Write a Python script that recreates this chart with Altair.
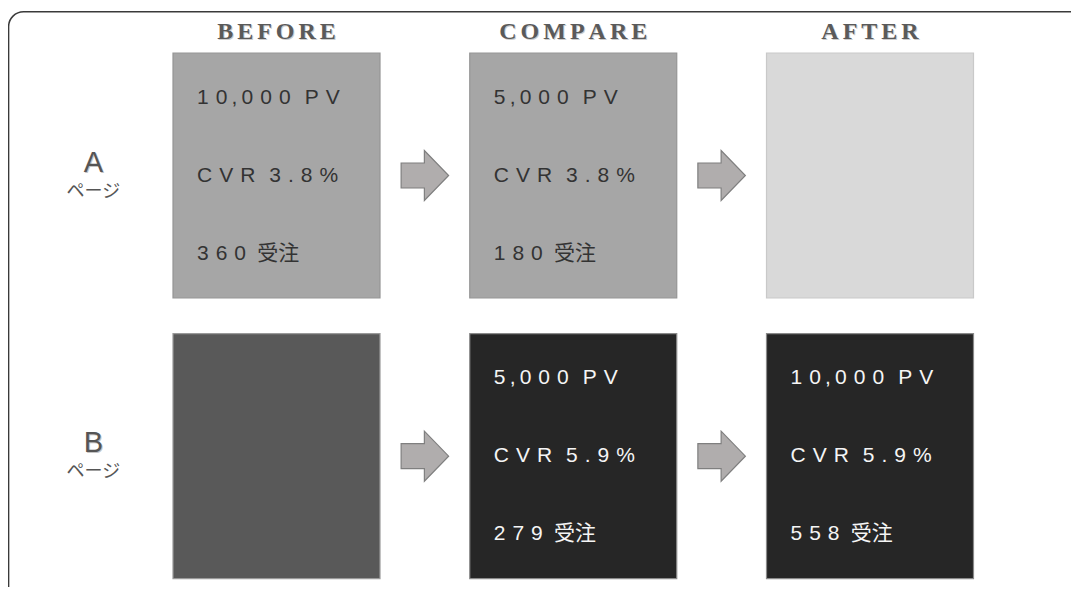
import altair as alt
import pandas as pd

# ---- data ----
columns = ["BEFORE", "COMPARE", "AFTER"]
pages = ["A", "B"]
page_word = "ページ"
pv_a = [10000, 5000, None]
cvr_a = [3.8, 3.8, None]
orders_a = [360, 180, None]
pv_b = [None, 5000, 10000]
cvr_b = [None, 5.9, 5.9]
orders_b = [None, 279, 558]
order_word = "受注"

# ---- styling / layout ----
SEP = "\u2004"
THIN = "\u2009"
HSEP = "\u2006"
W, H = 1063, 579
C0, CS = 268.5, 296.75      # column centre (plot px) and spacing
R0, RS = 167.5, 280.7       # row centre and spacing
x_dom = [-C0 / CS, (W - C0) / CS]
y_dom = [-R0 / RS, (H - R0) / RS]
xs = alt.Scale(domain=x_dom, nice=False, zero=False)
ys = alt.Scale(domain=y_dom, nice=False, zero=False, reverse=True)
HALF_W = 103.5 / CS
HALF_H = 122.5 / RS
LINE = 78 / RS


def spaced(s):
    words = s.split(" ")
    out = []
    for w in words:
        piece = ""
        for i, ch in enumerate(w):
            if i > 0:
                piece += THIN if (ch == "," or w[i - 1] == ",") else SEP
            piece += ch
        out.append(piece)
    return (SEP * 2).join(out)


series = {"A": (pv_a, cvr_a, orders_a), "B": (pv_b, cvr_b, orders_b)}

box_rows, text_rows, arrow_rows, label_rows = [], [], [], []
for r, page in enumerate(pages):
    pv, cvr, od = series[page]
    label_rows.append({"page": page, "r": r, "word": page_word})
    for c, col in enumerate(columns):
        key = f"{page}|{col}"
        box_rows.append({"key": key, "page": page, "c": c, "r": r})
        if pv[c] is not None:
            lines = [
                spaced(f"{pv[c]:,} PV"),
                spaced(f"CVR {cvr[c]}%"),
                SEP.join(list(str(od[c]))) + SEP + THIN + order_word,
            ]
            for k, t in enumerate(lines):
                text_rows.append({"page": page, "c": c, "r": r, "k": k, "text": t})
        if c < len(columns) - 1:
            arrow_rows.append({"page": page, "c": c, "r": r})

boxes = pd.DataFrame(box_rows)
texts = pd.DataFrame(text_rows)
arrows = pd.DataFrame(arrow_rows)
labels = pd.DataFrame(label_rows)
heads = pd.DataFrame({"col": columns, "c": list(range(len(columns))),
                      "label": [HSEP.join(list(h)) for h in columns]})

keys = list(boxes["key"])
fill_range = ["#a6a6a6", "#a6a6a6", "#d9d9d9", "#595959", "#262626", "#262626"]
stroke_range = ["#959595", "#959595", "#c9c9c9", "#9a9a9a", "#8a8a8a", "#8a8a8a"]

frame = alt.Chart(pd.DataFrame({"f": [0]})).mark_rect(
    fill="transparent", stroke="#3a3a3a", strokeWidth=1.5, cornerRadius=15
).encode(x=alt.value(0.6), x2=alt.value(1110), y=alt.value(3.7), y2=alt.value(597))

box_layer = alt.Chart(boxes).transform_calculate(
    x1=f"datum.c - {HALF_W}", x2=f"datum.c + {HALF_W}",
    y1=f"datum.r - {HALF_H}", y2=f"datum.r + {HALF_H}",
).mark_rect(strokeWidth=1.2).encode(
    x=alt.X("x1:Q", scale=xs, axis=None),
    x2="x2:Q",
    y=alt.Y("y1:Q", scale=ys, axis=None),
    y2="y2:Q",
    fill=alt.Fill("key:N", scale=alt.Scale(domain=keys, range=fill_range), legend=None),
    stroke=alt.Stroke("key:N", scale=alt.Scale(domain=keys, range=stroke_range), legend=None),
)

text_layer = alt.Chart(texts).transform_calculate(
    xl=f"datum.c - {HALF_W}", yl=f"datum.r + (datum.k - 1) * {LINE}",
).mark_text(
    align="left", baseline="middle", dx=24, fontSize=21,
    font="Liberation Sans, Noto Sans CJK JP",
).encode(
    x=alt.X("xl:Q", scale=xs, axis=None),
    y=alt.Y("yl:Q", scale=ys, axis=None),
    text="text:N",
    color=alt.Color("page:N", scale=alt.Scale(domain=pages, range=["#333333", "#f5f5f5"]), legend=None),
)

arrow_path = "M -0.95 -0.5 L -0.02 -0.5 L -0.02 -1 L 0.95 0 L -0.02 1 L -0.02 0.5 L -0.95 0.5 Z"
arrow_layer = alt.Chart(arrows).transform_calculate(
    xa="datum.c + 0.5"
).mark_point(
    shape=arrow_path, size=2500, filled=True, fill="#b0adad", stroke="#7f7f7f",
    strokeWidth=1.2, opacity=1,
).encode(
    x=alt.X("xa:Q", scale=xs, axis=None),
    y=alt.Y("r:Q", scale=ys, axis=None),
)

head_shadow = alt.Chart(heads).mark_text(
    align="center", baseline="middle", fontSize=24, fontWeight="bold",
    font="Liberation Serif", color="#cccccc", dx=1, dy=1.5,
).encode(x=alt.X("c:Q", scale=xs, axis=None), y=alt.value(23.5), text="label:N")
head_layer = alt.Chart(heads).mark_text(
    align="center", baseline="middle", fontSize=24, fontWeight="bold",
    font="Liberation Serif", color="#5a5a5a",
).encode(x=alt.X("c:Q", scale=xs, axis=None), y=alt.value(23.5), text="label:N")

letter_shadow = alt.Chart(labels).mark_text(
    align="center", baseline="middle", fontSize=29, font="Liberation Sans",
    color="#c4c4c4", dy=-12, dx=1,
).encode(x=alt.value(85.3), y=alt.Y("r:Q", scale=ys, axis=None), text="page:N")
letter_layer = alt.Chart(labels).mark_text(
    align="center", baseline="middle", fontSize=29, font="Liberation Sans",
    color="#555555", dy=-13,
).encode(x=alt.value(85.3), y=alt.Y("r:Q", scale=ys, axis=None), text="page:N")
word_layer = alt.Chart(labels).mark_text(
    align="center", baseline="middle", fontSize=18, font="Noto Sans CJK JP",
    color="#555555", dy=16,
).encode(x=alt.value(85.3), y=alt.Y("r:Q", scale=ys, axis=None), text="word:N")

chart = alt.layer(
    frame, box_layer, arrow_layer, text_layer, head_shadow, head_layer,
    letter_shadow, letter_layer, word_layer,
).properties(
    width=W, height=H, padding=0, autosize=alt.AutoSizeParams(type="none"),
    background="white",
).configure_view(stroke=None)

chart.save("out.html", embed_options={"renderer": "svg", "actions": False})
